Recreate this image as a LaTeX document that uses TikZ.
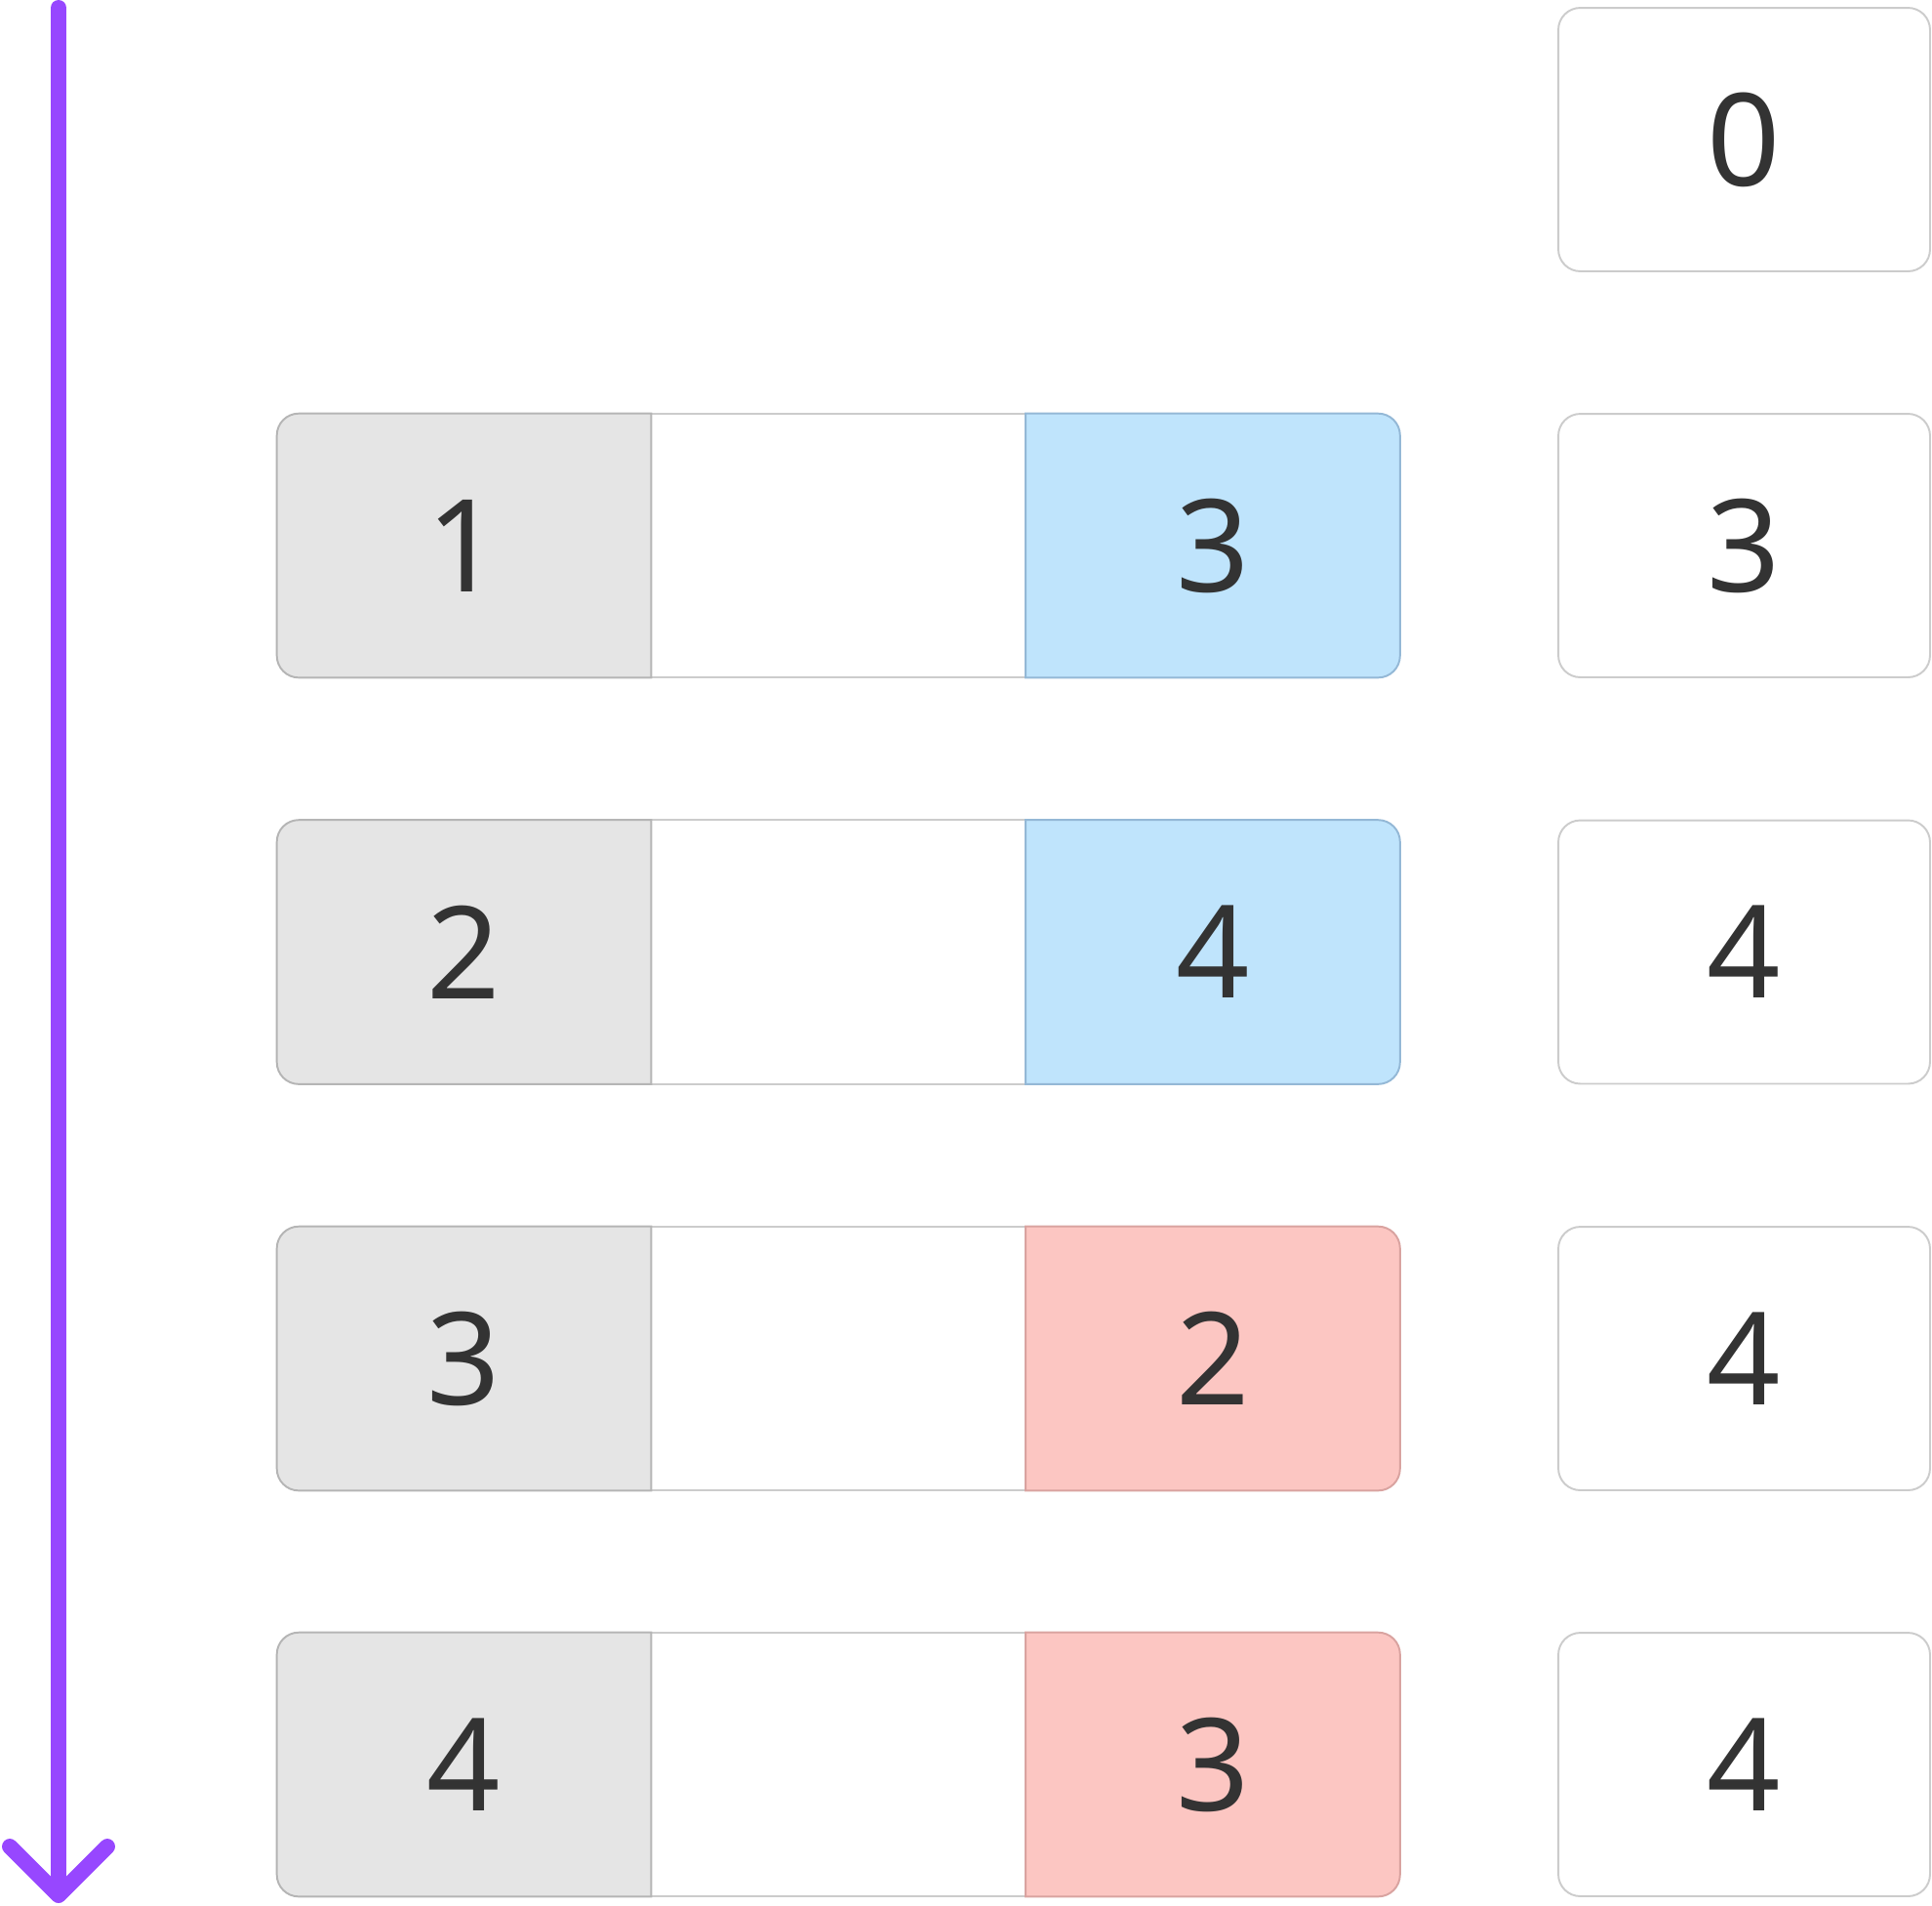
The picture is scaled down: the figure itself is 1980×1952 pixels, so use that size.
\documentclass[tikz,border=0pt]{standalone}
\usepackage{fontspec}
\setmainfont{Noto Sans}
\usetikzlibrary{arrows.meta,positioning,backgrounds}
\definecolor{stepline}{HTML}{9747FF}
\definecolor{ink}{HTML}{333333}
\definecolor{keyfill}{HTML}{E5E5E5}
\definecolor{keyedge}{HTML}{B5B5B5}
\definecolor{softedge}{HTML}{CCCCCC}
\definecolor{hitfill}{HTML}{BFE4FC}
\definecolor{hitedge}{HTML}{94B8D6}
\definecolor{missfill}{HTML}{FCC6C2}
\definecolor{missedge}{HTML}{D9A3A0}

\begin{document}
\begin{tikzpicture}[
  x=0.02cm, y=-0.02cm,
  every node/.style={font=\fontsize{75}{80}\selectfont, text=ink}
]
  % Styles
  \tikzstyle{cell} = [rectangle, minimum width=7.66cm, minimum height=5.4cm, inner sep=0pt]
  \tikzstyle{slot} = [rectangle, rounded corners=0.45cm, minimum width=7.62cm, minimum height=5.4cm, inner sep=0pt, draw=softedge, fill=white, line width=1.1pt]
  \tikzstyle{keypart} = [fill=keyfill, draw=keyedge, line width=1.1pt]
  \tikzstyle{gappart} = [draw=softedge, line width=1.1pt]
  \tikzstyle{hitpart} = [fill=hitfill, draw=hitedge, line width=1.1pt]
  \tikzstyle{misspart} = [fill=missfill, draw=missedge, line width=1.1pt]
  \tikzstyle{timeline} = [draw=stepline, line width=0.32cm, line cap=round, -{Straight Barb[round, length=1cm, width=2cm]}]

  \useasboundingbox (0,0) rectangle (1980,1952);

  % Time arrow
  \coordinate (tstart) at (60,8);
  \coordinate (tend) at (60,1950);
  \draw[timeline] (tstart) -- (tend);

  % Best so far
  \node[slot] (best0) at (1787.5,143) {0};
  \node[slot] (best1) at (1787.5,559) {3};
  \node[slot] (best2) at (1787.5,975.5) {4};
  \node[slot] (best3) at (1787.5,1392) {4};
  \node[slot] (best4) at (1787.5,1808) {4};

  % Row 1
  \node[cell] (key1) at (475.5,559) {1};
  \node[cell] (gap1) at (859,559) {};
  \node[cell] (val1) at (1243,559) {3};
  % Row 2
  \node[cell] (key2) at (475.5,975.5) {2};
  \node[cell] (gap2) at (859,975.5) {};
  \node[cell] (val2) at (1243,975.5) {4};
  % Row 3
  \node[cell] (key3) at (475.5,1392) {3};
  \node[cell] (gap3) at (859,1392) {};
  \node[cell] (val3) at (1243,1392) {2};
  % Row 4
  \node[cell] (key4) at (475.5,1808) {4};
  \node[cell] (gap4) at (859,1808) {};
  \node[cell] (val4) at (1243,1808) {3};

  % Cell shapes behind the numbers
  \begin{scope}[on background layer]
    \draw[gappart] (gap1.north west) -- (gap1.north east) (gap1.south west) -- (gap1.south east);
    \draw[gappart] (gap2.north west) -- (gap2.north east) (gap2.south west) -- (gap2.south east);
    \draw[gappart] (gap3.north west) -- (gap3.north east) (gap3.south west) -- (gap3.south east);
    \draw[gappart] (gap4.north west) -- (gap4.north east) (gap4.south west) -- (gap4.south east);

    \draw[keypart] (key1.north east) [rounded corners=0.45cm] -- (key1.north west) -- (key1.south west) [sharp corners] -- (key1.south east) -- cycle;
    \draw[keypart] (key2.north east) [rounded corners=0.45cm] -- (key2.north west) -- (key2.south west) [sharp corners] -- (key2.south east) -- cycle;
    \draw[keypart] (key3.north east) [rounded corners=0.45cm] -- (key3.north west) -- (key3.south west) [sharp corners] -- (key3.south east) -- cycle;
    \draw[keypart] (key4.north east) [rounded corners=0.45cm] -- (key4.north west) -- (key4.south west) [sharp corners] -- (key4.south east) -- cycle;

    \draw[hitpart] (val1.north west) [rounded corners=0.45cm] -- (val1.north east) -- (val1.south east) [sharp corners] -- (val1.south west) -- cycle;
    \draw[hitpart] (val2.north west) [rounded corners=0.45cm] -- (val2.north east) -- (val2.south east) [sharp corners] -- (val2.south west) -- cycle;
    \draw[misspart] (val3.north west) [rounded corners=0.45cm] -- (val3.north east) -- (val3.south east) [sharp corners] -- (val3.south west) -- cycle;
    \draw[misspart] (val4.north west) [rounded corners=0.45cm] -- (val4.north east) -- (val4.south east) [sharp corners] -- (val4.south west) -- cycle;
  \end{scope}
\end{tikzpicture}
\end{document}
